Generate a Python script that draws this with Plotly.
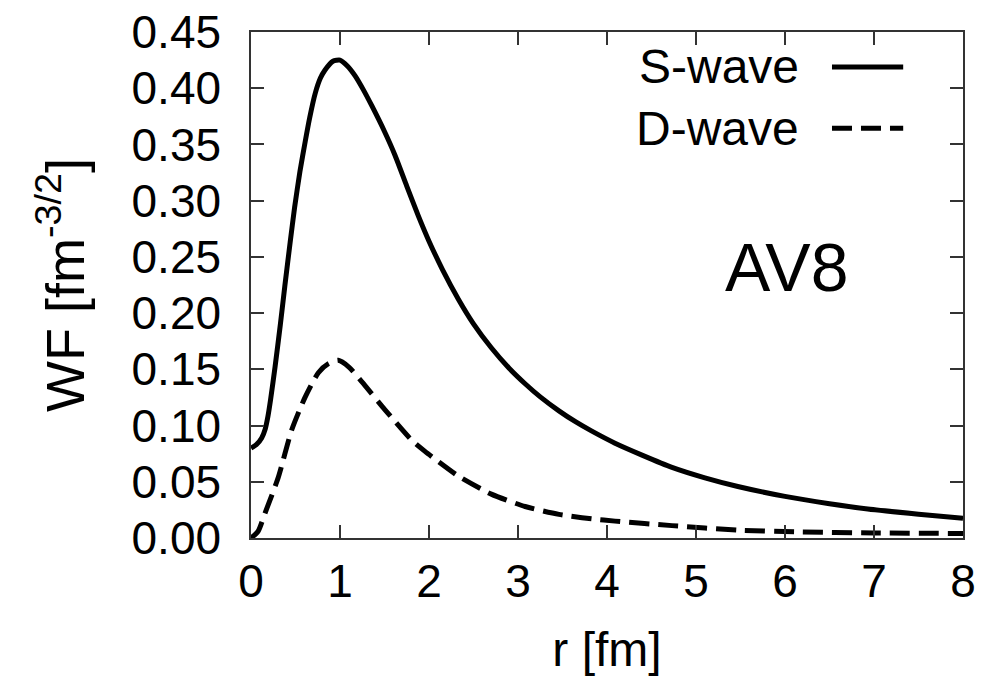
import plotly.graph_objects as go

# S-wave values
r_s = [0.00, 0.06, 0.12, 0.16, 0.19, 0.22, 0.27, 0.33, 0.38, 0.44, 0.49, 0.55, 0.61,
       0.66, 0.72, 0.78, 0.83, 0.92, 1.00, 1.08, 1.17, 1.26, 1.36, 1.50, 1.62, 1.75,
       1.88, 2.00, 2.15, 2.33, 2.50, 2.70, 2.90, 3.08, 3.25, 3.46, 3.65, 3.83, 4.09,
       4.40, 4.73, 5.10, 5.47, 6.00, 6.50, 6.93, 7.50, 8.00]
s_wave = [0.080, 0.083, 0.089, 0.097, 0.108, 0.123, 0.152, 0.190, 0.224, 0.263, 0.294,
          0.326, 0.353, 0.374, 0.395, 0.409, 0.416, 0.424, 0.425, 0.420, 0.411, 0.399,
          0.384, 0.3615, 0.340, 0.313, 0.2865, 0.264, 0.239, 0.2124, 0.1905, 0.1692,
          0.151, 0.1372, 0.1255, 0.1131, 0.1032, 0.095, 0.0843, 0.0735, 0.0628, 0.0535,
          0.0458, 0.037, 0.0305, 0.0258, 0.0212, 0.0176]

# D-wave values
r_d = [0.00, 0.08, 0.157, 0.307, 0.457, 0.607, 0.757, 0.87, 0.98, 1.10, 1.244, 1.506,
       1.805, 1.955, 2.07, 2.33, 2.70, 3.08, 3.46, 3.83, 4.09, 4.73, 5.47, 6.11, 7.00, 8.00]
d_wave = [0.000, 0.006, 0.022, 0.054, 0.096, 0.125, 0.147, 0.155, 0.158, 0.152, 0.139,
          0.114, 0.087, 0.077, 0.070, 0.055, 0.039, 0.028, 0.021, 0.017, 0.015, 0.011,
          0.007, 0.0055, 0.0045, 0.004]

x_ticks = [0, 1, 2, 3, 4, 5, 6, 7, 8]
y_ticks = [0.00, 0.05, 0.10, 0.15, 0.20, 0.25, 0.30, 0.35, 0.40, 0.45]
y_tick_labels = ["0.00", "0.05", "0.10", "0.15", "0.20", "0.25", "0.30", "0.35", "0.40", "0.45"]

FONT = "Liberation Sans, Arial, sans-serif"
DASH = "20px,9px"
LW = 5

fig = go.Figure()
fig.add_trace(go.Scatter(x=r_s, y=s_wave, mode="lines", name="S-wave",
                         line=dict(color="black", width=LW, shape="spline", smoothing=0.6)))
fig.add_trace(go.Scatter(x=r_d, y=d_wave, mode="lines", name="D-wave",
                         line=dict(color="black", width=LW, dash=DASH, shape="spline", smoothing=0.6)))

axis_common = dict(showline=True, linecolor="#333333", linewidth=1.5, mirror="ticks",
                   ticks="inside", ticklen=13, tickwidth=1.5, tickcolor="#333333",
                   showgrid=False, zeroline=False, ticklabeloverflow="allow",
                   tickfont=dict(family=FONT, size=46, color="black"))

fig.update_xaxes(range=[0, 8], tickvals=x_ticks, ticktext=[str(v) for v in x_ticks],
                 title=dict(text="r [fm]", font=dict(family=FONT, size=48, color="black"), standoff=26),
                 ticklabelstandoff=2, **axis_common)
fig.update_yaxes(range=[0, 0.45], tickvals=y_ticks, ticktext=y_tick_labels,
                 title=dict(text="WF [fm<sup>-3/2</sup>]", font=dict(family=FONT, size=54, color="black"), standoff=30),
                 ticklabelstandoff=19, **axis_common)

# legend (text on the left, sample on the right)
legend_entries = [("S-wave", 0.931, "solid"), ("D-wave", 0.810, DASH)]
for label, yy, dash in legend_entries:
    fig.add_annotation(x=0.772, y=yy, xref="paper", yref="paper", text=label,
                       showarrow=False, xanchor="right", yanchor="middle",
                       font=dict(family=FONT, size=48, color="black"))
    fig.add_shape(type="line", xref="paper", yref="paper", x0=0.816, x1=0.916, y0=yy, y1=yy,
                  line=dict(color="black", width=LW, dash=dash))

fig.add_annotation(x=0.752, y=0.535, xref="paper", yref="paper", text="AV8",
                   showarrow=False, xanchor="center", yanchor="middle",
                   font=dict(family=FONT, size=68, color="black"))

fig.update_layout(width=985, height=684, plot_bgcolor="white", paper_bgcolor="white",
                  showlegend=False, hovermode=False,
                  margin=dict(l=251, r=22, t=32, b=146, autoexpand=False))

# remove the default 8px page margin so the figure sits at the window's corner
fig.write_html("out.html", config={"displayModeBar": False},
               post_script="document.body.style.margin='0';")
